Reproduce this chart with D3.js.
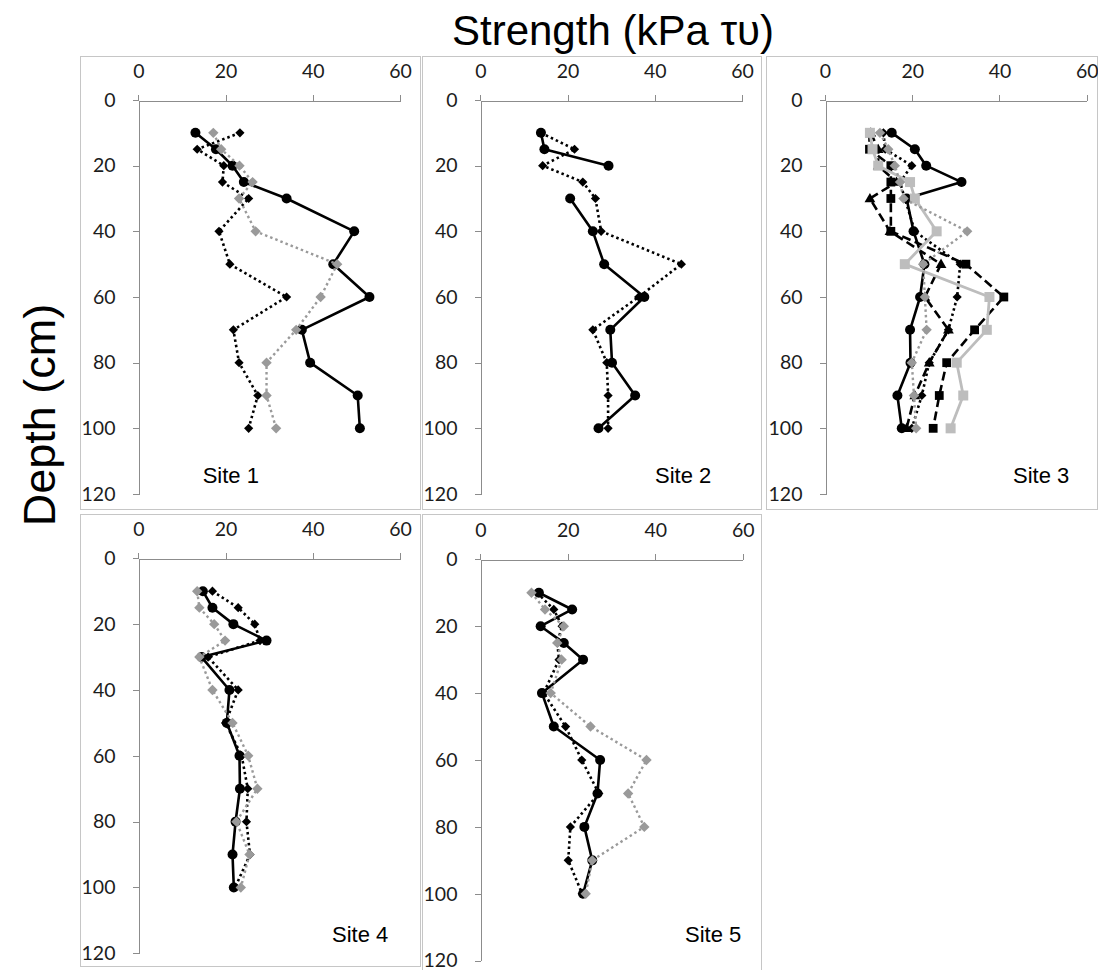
<!DOCTYPE html>
<html>
<head>
<meta charset="utf-8">
<script src="https://cdn.jsdelivr.net/npm/d3@7"></script>
<style>
  html, body { margin: 0; padding: 0; background: #fff; }
  svg { display: block; }
</style>
</head>
<body>
<svg id="chart" width="1098" height="970"></svg>
<script>
// ---- data ----------------------------------------------------------
const depths = [10, 15, 20, 25, 30, 40, 50, 60, 70, 80, 90, 100];
const strengthTicks = [0, 20, 40, 60];
const depthTicks = [0, 20, 40, 60, 80, 100, 120];
const siteNames = ["Site 1", "Site 2", "Site 3", "Site 4", "Site 5"];
const titleText = "Strength (kPa \u03c4\u03c5)";
const depthLabel = "Depth (cm)";

// Site 1
const site1Circles      = [13.1, 17.8, 21.6, 24.2, 34.0, 49.5, 44.7, 53.0, 37.5, 39.4, 50.3, 50.8];
const site1Diamonds     = [23.3, 13.5, 19.6, 19.3, 25.3, 18.5, 21.0, 34.0, 21.8, 23.1, 27.4, 25.3];
const site1GrayDiamonds = [17.2, 19.0, 23.2, 26.2, 23.1, 26.9, 45.6, 41.8, 36.2, 29.4, 29.4, 31.6];

// Site 2 (no reading at 25 cm for the first profile)
const site2Circles  = [13.9, 14.7, 29.4, null, 20.6, 25.8, 28.4, 37.6, 29.8, 30.2, 35.5, 27.1];
const site2Diamonds = [13.9, 21.6, 14.3, 23.5, 26.4, 27.7, 46.1, 36.3, 25.8, 29.0, 29.3, 29.3];

// Site 3
const site3Circles       = [15.3, 20.6, 23.2, 31.3, 18.7, 20.3, 22.8, 21.8, 19.5, 19.6, 16.6, 17.6];
const site3Diamonds      = [13.4, 13.8, 19.9, 17.2, 18.3, 20.6, 31.0, 30.3, 28.3, 23.9, 22.2, 19.9];
const site3Triangles     = [10.5, 12.2, 12.2, 16.4, 10.3, 14.9, 26.6, 22.9, 28.3, 23.9, 20.6, 18.7];
const site3Squares       = [10.2, 10.2, 15.1, 15.1, 15.1, 15.1, 32.3, 41.0, 34.3, 27.9, 26.2, 24.8];
const site3LightSquares  = [10.3, 10.9, 12.2, 19.5, 20.6, 25.6, 18.3, 37.7, 37.1, 30.2, 31.7, 28.8];
const site3GrayDiamonds  = [12.6, 14.5, 16.0, 17.2, 18.0, 32.6, 22.5, 22.9, 23.3, 19.9, 20.4, 20.9];

// Site 4
const site4Circles      = [14.8, 17.0, 21.8, 29.4, 14.5, 20.9, 20.3, 23.2, 23.3, 22.3, 21.6, 21.9];
const site4Diamonds     = [17.0, 22.9, 26.7, 27.9, 16.0, 22.9, 20.0, 23.7, 25.1, 24.8, 25.6, 22.2];
const site4GrayDiamonds = [13.5, 14.0, 17.4, 19.9, 14.0, 17.0, 21.6, 25.2, 27.3, 22.5, 25.5, 23.5];

// Site 5
const site5Circles      = [13.4, 21.0, 13.8, 19.1, 23.5, 14.1, 16.8, 27.4, 26.8, 23.8, 25.6, 23.5];
const site5Diamonds     = [13.0, 16.8, 18.7, 17.6, 18.0, 14.5, 19.5, 23.2, 27.1, 20.6, 20.1, 23.3];
const site5GrayDiamonds = [11.7, 14.8, 19.1, 17.6, 18.6, 16.1, 25.2, 38.0, 33.8, 37.5, 25.6, 24.1];

// ---- styles --------------------------------------------------------
const styles = {
  circle:     { stroke: "#000",    width: 2.6, dash: null,    marker: "circle",   fill: "#000",    size: 5.0 },
  blackDot:   { stroke: "#000",    width: 2.6, dash: "2.5,3", marker: "diamond",  fill: "#000",    size: 4.6 },
  grayDot:    { stroke: "#9a9a9a", width: 2.4, dash: "2.5,3", marker: "diamond",  fill: "#9a9a9a", size: 5.2 },
  dashTri:    { stroke: "#000",    width: 2.6, dash: "9,4.5", marker: "triangle", fill: "#000",    size: 5.4 },
  dashSquare: { stroke: "#000",    width: 2.6, dash: "9,4.5", marker: "square",   fill: "#000",    size: 4.4 },
  lightSquare:{ stroke: "#bdbdbd", width: 2.8, dash: null,    marker: "square",   fill: "#bdbdbd", size: 5.0 }
};

// ---- layout --------------------------------------------------------
const panels = [
  { name: siteNames[0], frame: [80, 56, 420, 509],  plot: [138.3, 400, 100, 494],
    label: [202.7, 483],
    series: [["circle", site1Circles], ["blackDot", site1Diamonds], ["grayDot", site1GrayDiamonds]] },
  { name: siteNames[1], frame: [422, 56, 761, 509], plot: [480.3, 742, 100, 494],
    label: [655, 483],
    series: [["circle", site2Circles], ["blackDot", site2Diamonds]] },
  { name: siteNames[2], frame: [766, 56, 1097, 509], plot: [825, 1086.7, 100, 494],
    label: [1013, 483],
    series: [["circle", site3Circles], ["blackDot", site3Diamonds], ["dashTri", site3Triangles],
             ["dashSquare", site3Squares], ["lightSquare", site3LightSquares], ["grayDot", site3GrayDiamonds]] },
  { name: siteNames[3], frame: [80, 514, 420, 966], plot: [138.3, 400, 558.3, 953.3],
    label: [332, 942],
    series: [["circle", site4Circles], ["blackDot", site4Diamonds], ["grayDot", site4GrayDiamonds]] },
  { name: siteNames[4], frame: [422, 514, 761, 975], plot: [480.3, 742.7, 559.3, 960.7],
    label: [685, 942],
    series: [["circle", site5Circles], ["blackDot", site5Diamonds], ["grayDot", site5GrayDiamonds]] }
];

const svg = d3.select("#chart");
const axisColor = "#8c8c8c";
const tickFont = "Lato, 'Open Sans', sans-serif";
const labelFont = "'Liberation Sans', Arial, sans-serif";

function markerPath(type, s) {
  if (type === "diamond") return `M0,${-s}L${s},0L0,${s}L${-s},0Z`;
  if (type === "square") return `M${-s},${-s}H${s}V${s}H${-s}Z`;
  if (type === "triangle") {
    const h = s * 1.732;
    return `M0,${-h * 0.6}L${s},${h * 0.4}L${-s},${h * 0.4}Z`;
  }
  return null;
}

panels.forEach(p => {
  const [fx0, fy0, fx1, fy1] = p.frame;
  const [px0, px1, py0, py1] = p.plot;
  const g = svg.append("g");

  g.append("rect")
    .attr("x", fx0 + 0.5).attr("y", fy0 + 0.5)
    .attr("width", fx1 - fx0).attr("height", fy1 - fy0)
    .attr("fill", "#fff").attr("stroke", "#c6c6c6").attr("stroke-width", 1);

  const x = d3.scaleLinear().domain([0, 60]).range([px0, px1]);
  const y = d3.scaleLinear().domain([0, 120]).range([py0, py1]);

  const xAxis = g.append("g")
    .attr("transform", `translate(0,${Math.round(py0) + 0.5})`)
    .call(d3.axisTop(x).tickValues(strengthTicks).tickSize(6).tickSizeOuter(0).tickPadding(17));
  const yAxis = g.append("g")
    .attr("transform", `translate(${Math.round(px0) + 0.5},0)`)
    .call(d3.axisLeft(y).tickValues(depthTicks).tickSize(6).tickSizeOuter(0).tickPadding(17));

  [xAxis, yAxis].forEach(a => {
    a.select(".domain").attr("stroke", axisColor).attr("shape-rendering", "crispEdges");
    a.selectAll(".tick line").attr("stroke", axisColor).attr("shape-rendering", "crispEdges");
    a.selectAll(".tick text")
      .attr("fill", "#1c1c1c")
      .style("font-family", tickFont)
      .style("font-size", "19.5px");
  });

  p.series.forEach(([key, values]) => {
    const st = styles[key];
    const pts = depths.map((d, i) => ({ depth: d, v: values[i] }));
    const line = d3.line()
      .defined(d => d.v != null)
      .x(d => x(d.v))
      .y(d => y(d.depth));

    g.append("path")
      .datum(pts)
      .attr("d", line)
      .attr("fill", "none")
      .attr("stroke", st.stroke)
      .attr("stroke-width", st.width)
      .attr("stroke-linejoin", "round")
      .attr("stroke-dasharray", st.dash);

    const valid = pts.filter(d => d.v != null);
    if (st.marker === "circle") {
      g.selectAll(null).data(valid).enter().append("circle")
        .attr("cx", d => x(d.v)).attr("cy", d => y(d.depth))
        .attr("r", st.size).attr("fill", st.fill);
    } else {
      const path = markerPath(st.marker, st.size);
      g.selectAll(null).data(valid).enter().append("path")
        .attr("transform", d => `translate(${x(d.v)},${y(d.depth)})`)
        .attr("d", path).attr("fill", st.fill);
    }
  });

  g.append("text")
    .attr("x", p.label[0]).attr("y", p.label[1])
    .style("font-family", labelFont)
    .style("font-size", "22px")
    .attr("fill", "#000")
    .text(p.name);
});

// shared axis titles
svg.append("text")
  .attr("x", 613).attr("y", 45)
  .attr("text-anchor", "middle")
  .style("font-family", labelFont)
  .style("font-size", "42px")
  .attr("fill", "#000")
  .text(titleText);

svg.append("text")
  .attr("transform", "translate(55,415) rotate(-90)")
  .attr("text-anchor", "middle")
  .style("font-family", labelFont)
  .style("font-size", "45px")
  .attr("fill", "#000")
  .text(depthLabel);
</script>
</body>
</html>
